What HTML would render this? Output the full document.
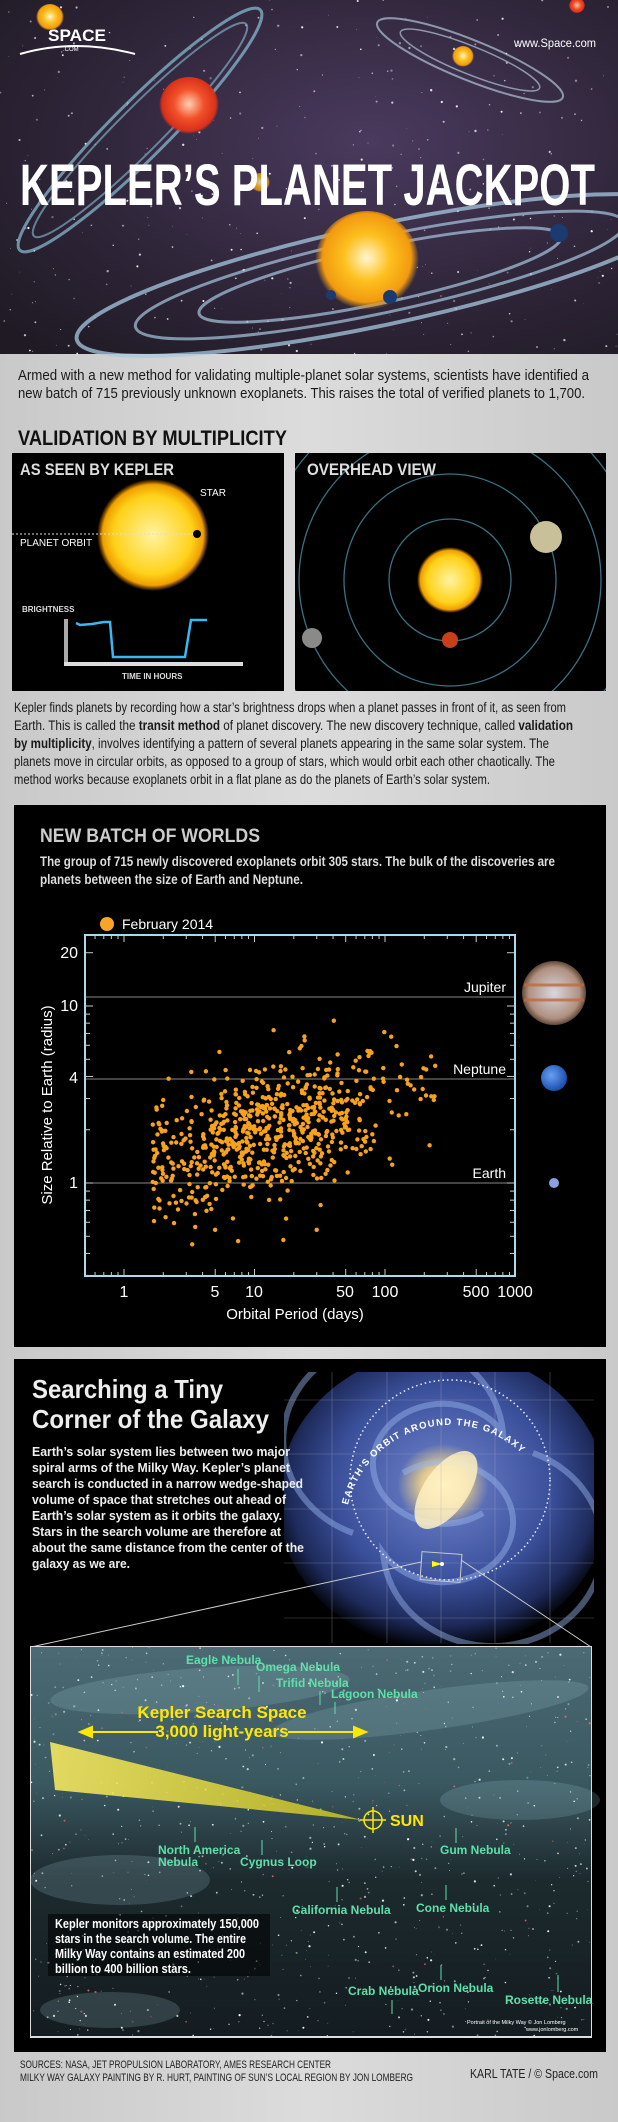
<!DOCTYPE html>
<html><head><meta charset="utf-8"><style>
html,body{margin:0;padding:0;background:#d3d3d3;}
svg{display:block;font-family:"Liberation Sans Narrow","Liberation Sans",sans-serif;}
</style></head><body>
<svg id="s" width="618" height="2122" viewBox="0 0 618 2122" xmlns="http://www.w3.org/2000/svg">
<defs>
<linearGradient id="pg" x1="0" y1="0" x2="1" y2="0"><stop offset="0" stop-color="#c9c9c9"/><stop offset="0.5" stop-color="#dcdcdc"/><stop offset="1" stop-color="#c9c9c9"/></linearGradient>
<radialGradient id="sky" cx="0.6" cy="0.4" r="0.8"><stop offset="0" stop-color="#4a3a5e"/><stop offset="0.6" stop-color="#2e2538"/><stop offset="1" stop-color="#1f1a24"/></radialGradient>
<radialGradient id="sunY" cx="0.5" cy="0.45" r="0.5"><stop offset="0" stop-color="#fff6d0"/><stop offset="0.45" stop-color="#fdc01e"/><stop offset="0.85" stop-color="#f29a10"/><stop offset="1" stop-color="#f29a10" stop-opacity="0"/></radialGradient>
<radialGradient id="sunR" cx="0.5" cy="0.45" r="0.5"><stop offset="0" stop-color="#ffd0b0"/><stop offset="0.5" stop-color="#f2502a"/><stop offset="0.9" stop-color="#d8301a"/><stop offset="1" stop-color="#d8301a" stop-opacity="0"/></radialGradient>
<radialGradient id="kSun" cx="0.5" cy="0.5" r="0.5"><stop offset="0" stop-color="#fff3a0"/><stop offset="0.7" stop-color="#ffd21a"/><stop offset="0.9" stop-color="#f0a000"/><stop offset="1" stop-color="#e08000" stop-opacity="0"/></radialGradient>
<radialGradient id="gal" cx="0.5" cy="0.45" r="0.55"><stop offset="0" stop-color="#fff5d0"/><stop offset="0.12" stop-color="#e0c890"/><stop offset="0.25" stop-color="#5a6fb8"/><stop offset="0.6" stop-color="#3a4f9a"/><stop offset="0.85" stop-color="#1d2a5a"/><stop offset="1" stop-color="#000"/></radialGradient>
<linearGradient id="neb" x1="0" y1="0" x2="0" y2="1"><stop offset="0" stop-color="#4c6a74"/><stop offset="0.35" stop-color="#3a5860"/><stop offset="0.6" stop-color="#1c2a2e"/><stop offset="1" stop-color="#141c20"/></linearGradient>
<linearGradient id="wedge" x1="0" y1="0" x2="1" y2="0"><stop offset="0" stop-color="#fff060"/><stop offset="1" stop-color="#c8c020"/></linearGradient>
<radialGradient id="jup" cx="0.5" cy="0.5" r="0.5"><stop offset="0" stop-color="#d8d8e0"/><stop offset="0.8" stop-color="#b09080"/><stop offset="1" stop-color="#604838"/></radialGradient>
<radialGradient id="nep" cx="0.4" cy="0.4" r="0.6"><stop offset="0" stop-color="#6aa0f0"/><stop offset="1" stop-color="#1a50b0"/></radialGradient>
<clipPath id="gc"><rect x="284" y="1372" width="310" height="272"/></clipPath>
</defs>
<rect width="618" height="2122" fill="url(#pg)"/>
<!-- HEADER -->
<rect width="618" height="354" fill="url(#sky)"/>
<g id="hstars"></g>
<ellipse cx="140" cy="130" rx="170" ry="28" transform="rotate(-45 140 130)" fill="none" stroke="#8cc0d8" stroke-width="3" opacity="0.7"/>
<ellipse cx="140" cy="130" rx="150" ry="22" transform="rotate(-45 140 130)" fill="none" stroke="#8cc0d8" stroke-width="2" opacity="0.6"/>
<circle cx="189" cy="107" r="30" fill="url(#sunR)"/>
<ellipse cx="470" cy="60" rx="100" ry="20" transform="rotate(22 470 60)" fill="none" stroke="#b0c4d8" stroke-width="2" opacity="0.7"/>
<ellipse cx="470" cy="60" rx="75" ry="14" transform="rotate(22 470 60)" fill="none" stroke="#b0c4d8" stroke-width="1.5" opacity="0.7"/>
<circle cx="463" cy="57" r="11" fill="url(#sunY)"/>
<circle cx="50" cy="18" r="14" fill="url(#sunY)"/>
<circle cx="577" cy="6" r="8" fill="url(#sunR)"/>
<ellipse cx="380" cy="275" rx="310" ry="50" transform="rotate(-12 380 275)" fill="none" stroke="#a8c8e0" stroke-width="4" opacity="0.75"/>
<ellipse cx="380" cy="275" rx="250" ry="38" transform="rotate(-12 380 275)" fill="none" stroke="#a8c8e0" stroke-width="3" opacity="0.7"/>
<ellipse cx="380" cy="275" rx="185" ry="28" transform="rotate(-12 380 275)" fill="none" stroke="#a8c8e0" stroke-width="3" opacity="0.7"/>
<ellipse cx="367" cy="263" rx="52" ry="52" fill="url(#sunY)"/>
<circle cx="331" cy="295" r="5" fill="#1a3a70"/><circle cx="390" cy="297" r="7" fill="#1a3a70"/><circle cx="559" cy="233" r="9" fill="#1a3a70"/>
<circle cx="260" cy="183" r="10" fill="url(#sunY)" opacity="0.8"/>
<text x="48" y="41" font-family="Liberation Sans" font-weight="bold" font-size="17" fill="#fff" textLength="58" lengthAdjust="spacingAndGlyphs">SPACE</text>
<path d="M20 54 Q75 38 135 54" stroke="#fff" stroke-width="2" fill="none"/>
<text x="63" y="51" font-size="6" fill="#fff" font-family="Liberation Sans">.COM</text>
<text x="514" y="47" font-size="12" fill="#fff" textLength="82" lengthAdjust="spacingAndGlyphs">www.Space.com</text>
<text x="20" y="205" font-size="58" font-weight="bold" fill="#fff" textLength="575" lengthAdjust="spacingAndGlyphs">KEPLER’S PLANET JACKPOT</text>
<!-- INTRO -->
<g font-size="15" fill="#1a1a1a">
<text x="18" y="380" textLength="571" lengthAdjust="spacingAndGlyphs">Armed with a new method for validating multiple-planet solar systems, scientists have identified a</text>
<text x="18" y="398" textLength="567" lengthAdjust="spacingAndGlyphs">new batch of 715 previously unknown exoplanets. This raises the total of verified planets to 1,700.</text>
</g>
<text x="18" y="445" font-size="21" font-weight="bold" fill="#111" textLength="269" lengthAdjust="spacingAndGlyphs">VALIDATION BY MULTIPLICITY</text>
<!-- LEFT PANEL -->
<rect x="12" y="453" width="272" height="238" fill="#000"/>
<text x="20" y="475" font-size="17" font-weight="bold" fill="#ddd" textLength="154" lengthAdjust="spacingAndGlyphs">AS SEEN BY KEPLER</text>
<circle cx="153" cy="535" r="56" fill="url(#kSun)"/>
<text x="200" y="496" font-size="10" fill="#fff" font-family="Liberation Sans">STAR</text>
<line x1="12" y1="534" x2="197" y2="534" stroke="#ddd" stroke-width="1" stroke-dasharray="2,2"/>
<circle cx="197" cy="534" r="4" fill="#000"/>
<text x="20" y="546" font-size="10" fill="#fff" font-family="Liberation Sans">PLANET ORBIT</text>
<text x="22" y="612" font-size="8" font-weight="bold" fill="#ddd" font-family="Liberation Sans">BRIGHTNESS</text>
<rect x="64" y="619" width="4" height="46" fill="#aaa"/>
<rect x="64" y="662" width="179" height="4" fill="#ddd"/>
<path d="M76 623 L80 625 L92 624 L104 622 L110 622 L113 657 L185 657 L191 620 L207 620" stroke="#3ab8f0" stroke-width="2.5" fill="none"/>
<text x="122" y="679" font-size="8" font-weight="bold" fill="#ddd" font-family="Liberation Sans">TIME  IN  HOURS</text>
<!-- RIGHT PANEL -->
<rect x="295" y="453" width="311" height="238" fill="#000"/>
<clipPath id="rp"><rect x="295" y="453" width="311" height="238"/></clipPath>
<g clip-path="url(#rp)" fill="none" stroke="#3a7080" stroke-width="1.3">
<circle cx="450" cy="580" r="61"/><circle cx="450" cy="580" r="106"/><circle cx="450" cy="580" r="151"/><circle cx="450" cy="580" r="190"/>
</g>
<circle cx="450" cy="580" r="33" fill="url(#kSun)"/>
<circle cx="450" cy="640" r="8" fill="#c8401a"/>
<circle cx="546" cy="537" r="16" fill="#c8c098"/>
<circle cx="312" cy="638" r="10" fill="#8a8a88"/>
<text x="307" y="475" font-size="17" font-weight="bold" fill="#ddd" textLength="129" lengthAdjust="spacingAndGlyphs">OVERHEAD VIEW</text>
<!-- PARA -->
<g font-size="13.5" fill="#1a1a1a">
<text x="14" y="712" textLength="552" lengthAdjust="spacingAndGlyphs">Kepler finds planets by recording how a star’s brightness drops when a planet passes in front of it, as seen from</text>
<text x="14" y="730" textLength="559" lengthAdjust="spacingAndGlyphs">Earth. This is called the <tspan font-weight="bold">transit method</tspan> of planet discovery. The new discovery technique, called <tspan font-weight="bold">validation</tspan></text>
<text x="14" y="748" textLength="535" lengthAdjust="spacingAndGlyphs"><tspan font-weight="bold">by multiplicity</tspan>, involves identifying a pattern of several planets appearing in the same solar system. The</text>
<text x="14" y="766" textLength="541" lengthAdjust="spacingAndGlyphs">planets move in circular orbits, as opposed to a group of stars, which would orbit each other chaotically. The</text>
<text x="14" y="784" textLength="476" lengthAdjust="spacingAndGlyphs">method works because exoplanets orbit in a flat plane as do the planets of Earth’s solar system.</text>
</g>
<!-- CHART -->
<rect x="14" y="805" width="592" height="542" fill="#000"/>
<text x="40" y="842" font-size="19" font-weight="bold" fill="#ccc" textLength="220" lengthAdjust="spacingAndGlyphs">NEW BATCH OF WORLDS</text>
<text x="40" y="866" font-size="13.5" font-weight="bold" fill="#ddd" textLength="515" lengthAdjust="spacingAndGlyphs">The group of 715 newly discovered exoplanets orbit 305 stars. The bulk of the discoveries are</text>
<text x="40" y="884" font-size="13.5" font-weight="bold" fill="#ddd" textLength="263" lengthAdjust="spacingAndGlyphs">planets between the size of Earth and Neptune.</text>
<circle cx="107" cy="924" r="7" fill="#f7a52a"/>
<text x="122" y="929" font-family="Liberation Sans" font-size="14" fill="#fff">February 2014</text>
<g stroke="#888" stroke-width="1">
<line x1="86" y1="997" x2="515" y2="997"/><line x1="86" y1="1079" x2="515" y2="1079"/><line x1="86" y1="1183" x2="515" y2="1183"/>
</g>
<g id="ticks" stroke="#ccc" stroke-width="1"></g>
<g id="pts" fill="#f7a21b"></g>
<rect x="85" y="935" width="430" height="341" fill="none" stroke="#a8dcec" stroke-width="2"/>
<g font-family="Liberation Sans" font-size="14" fill="#fff">
<text x="506" y="992" text-anchor="end">Jupiter</text>
<text x="506" y="1074" text-anchor="end">Neptune</text>
<text x="506" y="1178" text-anchor="end">Earth</text>
<text x="78" y="958" text-anchor="end" font-size="16">20</text>
<text x="78" y="1011" text-anchor="end" font-size="16">10</text>
<text x="78" y="1083" text-anchor="end" font-size="16">4</text>
<text x="78" y="1188" text-anchor="end" font-size="16">1</text>
<text x="124" y="1297" text-anchor="middle" font-size="16">1</text>
<text x="215" y="1297" text-anchor="middle" font-size="16">5</text>
<text x="254" y="1297" text-anchor="middle" font-size="16">10</text>
<text x="345" y="1297" text-anchor="middle" font-size="16">50</text>
<text x="385" y="1297" text-anchor="middle" font-size="16">100</text>
<text x="476" y="1297" text-anchor="middle" font-size="16">500</text>
<text x="515" y="1297" text-anchor="middle" font-size="16">1000</text>
<text x="295" y="1319" text-anchor="middle" font-size="15">Orbital Period (days)</text>
<text transform="translate(52 1105) rotate(-90)" text-anchor="middle" font-size="15">Size Relative to Earth (radius)</text>
</g>
<circle cx="554" cy="993" r="32" fill="url(#jup)"/>
<g stroke="#c06a40" stroke-width="3" opacity="0.8"><line x1="524" y1="985" x2="584" y2="985"/><line x1="524" y1="1000" x2="584" y2="1000"/></g>
<circle cx="554" cy="1078" r="13" fill="url(#nep)"/>
<circle cx="554" cy="1183" r="5" fill="#8aa0e0"/>
<!-- GALAXY -->
<rect x="14" y="1359" width="592" height="693" fill="#000"/>
<g clip-path="url(#gc)">
<ellipse cx="443" cy="1500" rx="165" ry="150" fill="url(#gal)"/>
<g fill="none" stroke="#9ab8f0" stroke-width="6" opacity="0.45">
<path d="M443 1493 m-40 -20 a70 60 0 1 1 -20 80 a110 100 0 1 0 150 -100"/>
<path d="M443 1493 m40 20 a70 60 0 1 1 20 -80 a110 100 0 1 0 -150 100"/>
</g>
<ellipse cx="446" cy="1490" rx="22" ry="45" transform="rotate(35 446 1490)" fill="#fff0c0" opacity="0.85"/>
<g stroke="#aab" stroke-width="0.6" opacity="0.5">
<line x1="332" y1="1372" x2="332" y2="1643"/><line x1="387" y1="1372" x2="387" y2="1643"/><line x1="441" y1="1372" x2="441" y2="1643"/><line x1="495" y1="1372" x2="495" y2="1643"/><line x1="550" y1="1372" x2="550" y2="1643"/>
<line x1="284" y1="1400" x2="594" y2="1400"/><line x1="284" y1="1454" x2="594" y2="1454"/><line x1="284" y1="1509" x2="594" y2="1509"/><line x1="284" y1="1563" x2="594" y2="1563"/><line x1="284" y1="1618" x2="594" y2="1618"/>
</g>
</g>
<ellipse cx="450" cy="1480" rx="100" ry="100" fill="none" stroke="#eee" stroke-width="1.5" stroke-dasharray="1.5,3"/>
<path id="arc" d="M348 1505 A105 105 0 0 1 552 1505" fill="none"/>
<text font-size="9.5" font-weight="bold" fill="#fff" letter-spacing="1.2" font-family="Liberation Sans"><textPath href="#arc">EARTH’S ORBIT AROUND THE GALAXY</textPath></text>
<rect x="421" y="1553" width="40" height="28" fill="none" stroke="#ccc" stroke-width="1" transform="rotate(4 441 1567)"/>
<polygon points="432,1561 442,1564 432,1567" fill="#ff0"/><circle cx="442" cy="1564" r="2" fill="#fff"/>
<line x1="31" y1="1647" x2="421" y2="1562" stroke="#ccc" stroke-width="1"/>
<line x1="591" y1="1647" x2="461" y2="1560" stroke="#ccc" stroke-width="1"/>
<text x="32" y="1398" font-size="26" font-weight="bold" fill="#eee" textLength="191" lengthAdjust="spacingAndGlyphs">Searching a Tiny</text>
<text x="32" y="1428" font-size="26" font-weight="bold" fill="#eee" textLength="237" lengthAdjust="spacingAndGlyphs">Corner of the Galaxy</text>
<g font-size="13" font-weight="bold" fill="#eee">
<text x="32" y="1456" textLength="258" lengthAdjust="spacingAndGlyphs">Earth’s solar system lies between two major</text>
<text x="32" y="1472" textLength="258" lengthAdjust="spacingAndGlyphs">spiral arms of the Milky Way. Kepler’s planet</text>
<text x="32" y="1488" textLength="271" lengthAdjust="spacingAndGlyphs">search is conducted in a narrow wedge-shaped</text>
<text x="32" y="1504" textLength="254" lengthAdjust="spacingAndGlyphs">volume of space that stretches out ahead of</text>
<text x="32" y="1520" textLength="250" lengthAdjust="spacingAndGlyphs">Earth’s solar system as it orbits the galaxy.</text>
<text x="32" y="1536" textLength="249" lengthAdjust="spacingAndGlyphs">Stars in the search volume are therefore at</text>
<text x="32" y="1552" textLength="272" lengthAdjust="spacingAndGlyphs">about the same distance from the center of the</text>
<text x="32" y="1568" textLength="98" lengthAdjust="spacingAndGlyphs">galaxy as we are.</text>
</g>
<!-- INSET -->
<rect x="30" y="1646" width="562" height="392" fill="#ddd"/>
<rect x="31" y="1647" width="560" height="389" fill="url(#neb)"/>
<g opacity="0.2" fill="#9cc8d0">
<ellipse cx="200" cy="1690" rx="150" ry="22" transform="rotate(-4 200 1690)"/>
<ellipse cx="430" cy="1710" rx="160" ry="20" transform="rotate(-8 430 1710)"/>
<ellipse cx="120" cy="1880" rx="90" ry="25"/>
<ellipse cx="520" cy="1800" rx="80" ry="20"/>
<ellipse cx="110" cy="2010" rx="70" ry="18"/>
</g>
<g id="istars"></g>
<polygon points="50,1742 362,1820 55,1790" fill="url(#wedge)" opacity="0.85"/>
<g stroke="#ffe800" stroke-width="1.5" fill="none"><circle cx="373" cy="1820" r="9"/><line x1="360" y1="1820" x2="386" y2="1820"/><line x1="373" y1="1807" x2="373" y2="1833"/></g>
<text x="390" y="1826" font-size="16" font-weight="bold" fill="#ffe800">SUN</text>
<text x="222" y="1718" text-anchor="middle" font-size="17" font-weight="bold" fill="#ffe800">Kepler Search Space</text>
<text x="222" y="1737" text-anchor="middle" font-size="17" font-weight="bold" fill="#ffe800">3,000 light-years</text>
<g stroke="#ffe800" stroke-width="2" fill="#ffe800"><line x1="85" y1="1732" x2="158" y2="1732"/><polygon points="80,1732 92,1727 92,1737"/><line x1="288" y1="1732" x2="360" y2="1732"/><polygon points="366,1732 354,1727 354,1737"/></g>
<g font-size="12" font-weight="bold" fill="#5fe0a8">
<text x="186" y="1664">Eagle Nebula</text>
<text x="256" y="1671">Omega Nebula</text>
<text x="276" y="1687">Trifid Nebula</text>
<text x="331" y="1698">Lagoon Nebula</text>
<text x="158" y="1854">North America</text><text x="158" y="1866">Nebula</text>
<text x="240" y="1866">Cygnus Loop</text>
<text x="440" y="1854">Gum Nebula</text>
<text x="292" y="1914">California Nebula</text>
<text x="416" y="1912">Cone Nebula</text>
<text x="348" y="1995">Crab Nebula</text>
<text x="418" y="1992">Orion Nebula</text>
<text x="505" y="2004">Rosette Nebula</text>
</g>
<g stroke="#5fe0a8" stroke-width="1"><line x1="238" y1="1669" x2="238" y2="1685"/><line x1="259" y1="1676" x2="259" y2="1692"/><line x1="320" y1="1691" x2="320" y2="1705"/><line x1="335" y1="1702" x2="335" y2="1714"/><line x1="195" y1="1827" x2="195" y2="1842"/><line x1="262" y1="1840" x2="262" y2="1855"/><line x1="456" y1="1828" x2="456" y2="1843"/><line x1="337" y1="1887" x2="337" y2="1902"/><line x1="446" y1="1885" x2="446" y2="1900"/><line x1="392" y1="2000" x2="392" y2="2014"/><line x1="441" y1="1965" x2="441" y2="1980"/><line x1="558" y1="1975" x2="558" y2="1992"/></g>
<rect x="48" y="1914" width="222" height="62" fill="#000" opacity="0.55"/>
<g font-size="12.5" font-weight="bold" fill="#fff">
<text x="55" y="1928" textLength="204" lengthAdjust="spacingAndGlyphs">Kepler monitors approximately 150,000</text>
<text x="55" y="1943" textLength="191" lengthAdjust="spacingAndGlyphs">stars in the search volume. The entire</text>
<text x="55" y="1958" textLength="190" lengthAdjust="spacingAndGlyphs">Milky Way contains an estimated 200</text>
<text x="55" y="1973" textLength="136" lengthAdjust="spacingAndGlyphs">billion to 400 billion stars.</text>
</g>
<text x="467" y="2024" font-size="5.5" fill="#fff" font-family="Liberation Sans">Portrait of the Milky Way © Jon Lomberg</text>
<text x="526" y="2031" font-size="5.5" fill="#fff" font-family="Liberation Sans">www.jonlomberg.com</text>
<!-- SOURCES -->
<g font-size="11" fill="#222">
<text x="20" y="2068" textLength="311" lengthAdjust="spacingAndGlyphs">SOURCES: NASA, JET PROPULSION LABORATORY, AMES RESEARCH CENTER</text>
<text x="20" y="2081" textLength="393" lengthAdjust="spacingAndGlyphs">MILKY WAY GALAXY PAINTING BY R. HURT, PAINTING OF SUN’S LOCAL REGION BY JON LOMBERG</text>
</g>
<text x="470" y="2078" font-size="13" fill="#222" textLength="128" lengthAdjust="spacingAndGlyphs">KARL TATE / © Space.com</text>
</svg>
<script>
(function(){
var NS="http://www.w3.org/2000/svg";
var seed=12345;function r(){seed=(seed*16807)%2147483647;return seed/2147483647;}
function g(){return Math.sqrt(-2*Math.log(r()+1e-9))*Math.cos(2*Math.PI*r());}
function c(p,x,y,rad,fill,op){var e=document.createElementNS(NS,"circle");e.setAttribute("cx",x.toFixed(1));e.setAttribute("cy",y.toFixed(1));e.setAttribute("r",rad);if(fill)e.setAttribute("fill",fill);if(op)e.setAttribute("opacity",op);p.appendChild(e);}
var pts=document.getElementById("pts");
for(var i=0;i<715;i++){
 var lp=1.12+0.5*g(); if(lp<0.22)lp=0.22+r()*0.1; if(lp>2.4)lp=2.2+r()*0.2;
 var lr=0.30+0.2*(lp-1.12)+0.19*g(); if(lr<-0.35)lr=-0.35+r()*0.1; if(lr>1.1)lr=1.0+r()*0.1;
 var x=124+lp*130.5, y=1183-lr*177;
 c(pts,x,y,2.2);
}
var t=document.getElementById("ticks");
function ln(x1,y1,x2,y2){var e=document.createElementNS(NS,"line");e.setAttribute("x1",x1);e.setAttribute("y1",y1);e.setAttribute("x2",x2);e.setAttribute("y2",y2);t.appendChild(e);}
for(var d=-1;d<3;d++)for(var k=1;k<10;k++){var x=124+(d+Math.log10(k))*130.5;if(x<86||x>514)continue;var L=(k==1||k==5)?7:4;ln(x,1276,x,1276-L);ln(x,935,x,935+L);}
[0.4,0.5,0.6,0.7,0.8,0.9,1,2,3,4,5,6,7,8,9,10,20].forEach(function(v){var y=1183-Math.log10(v)*177;if(y<936||y>1275)return;var L=(v==1||v==10||v==4||v==20)?7:4;ln(86,y,86+L,y);ln(514,y,514-L,y);});
var hs=document.getElementById("hstars");
for(var i=0;i<350;i++)c(hs,r()*618,r()*354,(r()*0.9+0.3).toFixed(1),"#fff",(0.3+r()*0.7).toFixed(2));
var is=document.getElementById("istars");
for(var i=0;i<900;i++){var col=r()<0.1?"#e06a6a":(r()<0.2?"#bfe8c0":"#fff");c(is,31+r()*560,1647+r()*389,(r()*0.8+0.3).toFixed(1),col,(0.3+r()*0.7).toFixed(2));}
})();
</script>
</body></html>
